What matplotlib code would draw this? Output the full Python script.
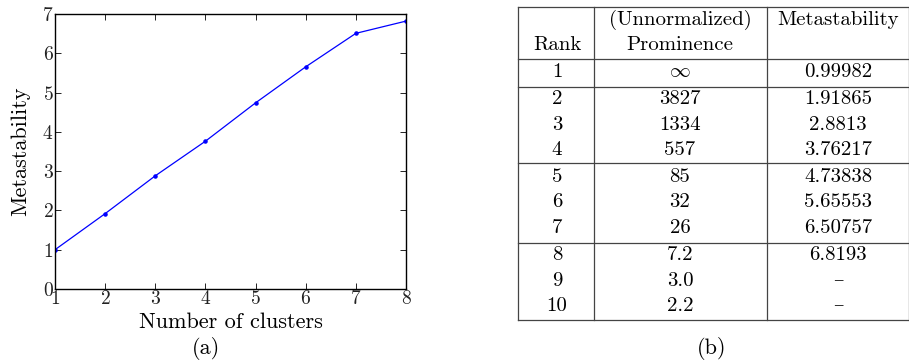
import matplotlib
matplotlib.use('Agg')
import matplotlib.pyplot as plt

plt.rcParams['font.family'] = ['cmr10', 'DejaVu Serif']
plt.rcParams['mathtext.fontset'] = 'cm'
plt.rcParams['axes.formatter.use_mathtext'] = True

# data
clusters = [1, 2, 3, 4, 5, 6, 7, 8]
metastability = [0.99982, 1.91865, 2.8813, 3.76217, 4.73838, 5.65553, 6.50757, 6.8193]

rank = ['1', '2', '3', '4', '5', '6', '7', '8', '9', '10']
prominence = [r'$\infty$', '3827', '1334', '557', '85', '32', '26', '7.2', '3.0', '2.2']
meta_txt = ['0.99982', '1.91865', '2.8813', '3.76217', '4.73838', '5.65553', '6.50757', '6.8193', '\u2013', '\u2013']

W, H = 909, 364
fig = plt.figure(figsize=(W / 100, H / 100), dpi=100)

# (a) line plot
ax = fig.add_axes([55 / W, 1 - 289 / H, 351 / W, 275 / H])
ax.plot(clusters, metastability, color='blue', lw=0.9, marker='.', ms=4.5)
ax.set_xlim(1, 8)
ax.set_ylim(0, 7)
ax.set_xticks(range(1, 9))
ax.set_yticks(range(0, 8))
ax.tick_params(direction='in', top=True, right=True, length=4, width=0.6,
               labelsize=14, pad=1, labelcolor='#222222')
for s in ax.spines.values():
    s.set_linewidth(1.0)
ax.set_xlabel('Number of clusters', fontsize=16, labelpad=3)
ax.set_ylabel('Metastability', fontsize=16, labelpad=9)

# overlay in pixel coordinates for the table and captions
ov = fig.add_axes([0, 0, 1, 1])
ov.set_xlim(0, W)
ov.set_ylim(H, 0)
ov.axis('off')

fs = 15
ov.text(206, 349, '(a)', fontsize=16, ha='center', va='center')
ov.text(712, 349, '(b)', fontsize=16, ha='center', va='center')

# table grid
x0, x1, x2, x3 = 518, 594, 767, 909
lc = '#444444'
for x in (x0, x1, x2, x3):
    ov.plot([x, x], [7, 320], color=lc, lw=0.9)
for y in (7, 59, 87, 163, 243, 320):
    ov.plot([x0, x3], [y, y], color=lc, lw=0.9)

c0, c1, c2 = 557, 680, 838
ov.text(c1, 20, '(Unnormalized)', fontsize=fs, ha='center', va='center')
ov.text(c1, 45, 'Prominence', fontsize=fs, ha='center', va='center')
ov.text(c0, 45, 'Rank', fontsize=fs, ha='center', va='center')
ov.text(c2, 20, 'Metastability', fontsize=fs, ha='center', va='center')

row_y = [72, 99, 125, 150, 177, 202, 228, 255, 281, 306]
for y, r, p, m in zip(row_y, rank, prominence, meta_txt):
    ov.text(c0, y, r, fontsize=fs, ha='center', va='center')
    ov.text(c1, y, p, fontsize=fs, ha='center', va='center')
    ov.text(c2, y, m, fontsize=fs, ha='center', va='center', color='#333333' if m == '\u2013' else 'black')

fig.savefig('out.png', dpi=100)
